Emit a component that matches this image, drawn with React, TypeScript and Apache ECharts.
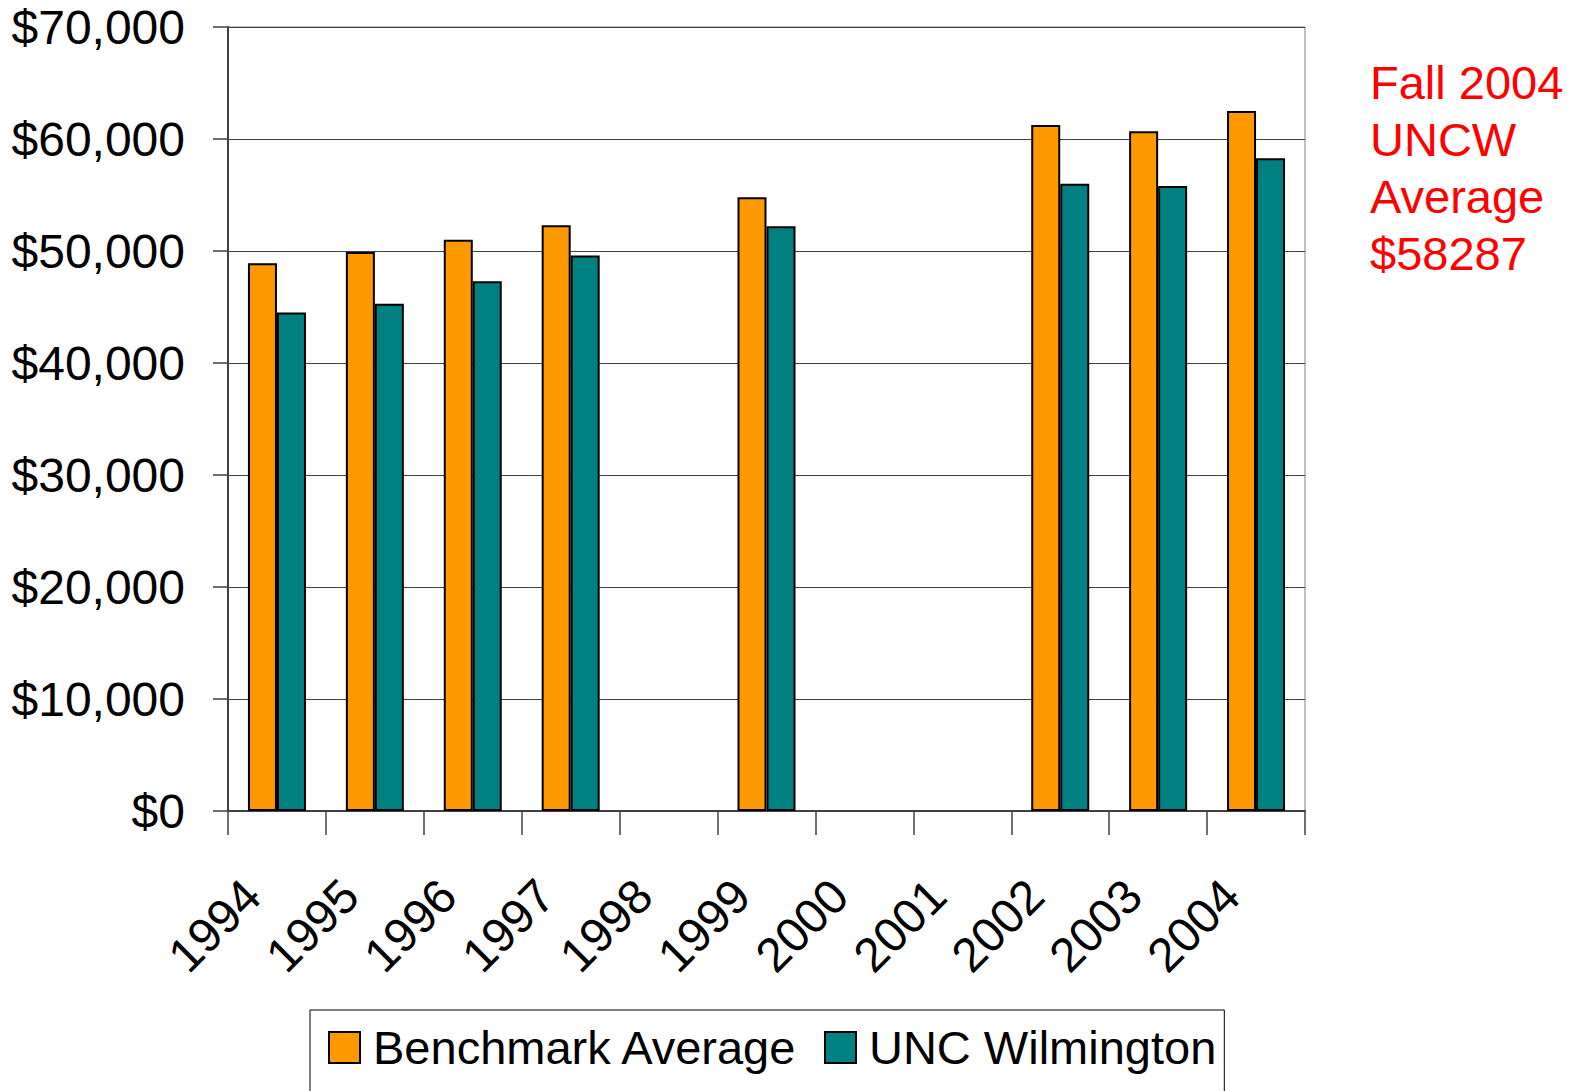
import React, { useEffect, useRef } from "react";
import * as echarts from "echarts";

const years = ["1994", "1995", "1996", "1997", "1998", "1999", "2000", "2001", "2002", "2003", "2004"];
const benchmark = [48900, 49900, 51000, 52300, null, 54800, null, null, 61250, 60700, 62500];
const uncw = [44500, 45300, 47300, 49600, null, 52200, null, null, 56000, 55800, 58287];
const yTicks = { min: 0, max: 70000, interval: 10000 };
const noteLines = ["Fall 2004", "UNCW", "Average", "$58287"];

export default function App() {
  const ref = useRef<HTMLDivElement>(null);
  useEffect(() => {
    const chart = echarts.init(ref.current!, undefined, { renderer: "svg" });
    const font = "Liberation Sans, Arial, sans-serif";
    chart.setOption({
      animation: false,
      backgroundColor: "#ffffff",
      textStyle: { fontFamily: font },
      grid: {
        left: 228,
        right: 278,
        top: 27,
        bottom: 280,
        show: true,
        borderColor: "#808080",
        borderWidth: 1,
      },
      legend: {
        top: 1010,
        left: 310,
        icon: "rect",
        itemWidth: 31,
        itemHeight: 31,
        itemGap: 26,
        padding: [14, 8, 40, 18],
        borderColor: "#000000",
        borderWidth: 1,
        itemStyle: { borderColor: "#000", borderWidth: 2 },
        textStyle: { fontSize: 47, color: "#000", fontFamily: font, padding: [0, 0, 0, 8] },
        data: ["Benchmark Average", "UNC Wilmington"],
      },
      xAxis: {
        type: "category",
        data: years,
        axisLine: { lineStyle: { color: "#404040", width: 2 } },
        axisTick: { show: true, length: 24, lineStyle: { color: "#404040", width: 1.5 } },
        axisLabel: {
          rotate: 45,
          fontSize: 48,
          color: "#000",
          margin: 52,
          padding: [0, 35, 0, 0],
          interval: 0,
          fontFamily: font,
        },
      },
      yAxis: {
        type: "value",
        min: yTicks.min,
        max: yTicks.max,
        interval: yTicks.interval,
        axisLine: { show: true, lineStyle: { color: "#404040", width: 2 } },
        axisTick: { show: true, length: 15, lineStyle: { color: "#404040", width: 1.5 } },
        splitLine: { lineStyle: { color: "#404040", width: 1 } },
        axisLabel: {
          fontSize: 48,
          color: "#000",
          margin: 43,
          fontFamily: font,
          formatter: (v: number) => "$" + v.toLocaleString("en-US"),
        },
      },
      series: [
        {
          name: "Benchmark Average",
          type: "bar",
          data: benchmark,
          barWidth: 29,
          barGap: "0%",
          itemStyle: { color: "#FF9900", borderColor: "#000", borderWidth: 2 },
        },
        {
          name: "UNC Wilmington",
          type: "bar",
          data: uncw,
          barWidth: 29,
          barGap: "0%",
          itemStyle: { color: "#008080", borderColor: "#000", borderWidth: 2 },
        },
      ],
      graphic: [
        {
          type: "text",
          left: 1370,
          top: 54,
          style: {
            text: noteLines.join("\n"),
            fill: "#FF0000",
            fontSize: 47,
            lineHeight: 57,
            fontFamily: font,
          },
        },
      ],
    });
    return () => chart.dispose();
  }, []);
  return (
    <div
      ref={ref}
      style={{ position: "fixed", left: 0, top: 0, width: 1583, height: 1091, overflow: "hidden" }}
    />
  );
}
